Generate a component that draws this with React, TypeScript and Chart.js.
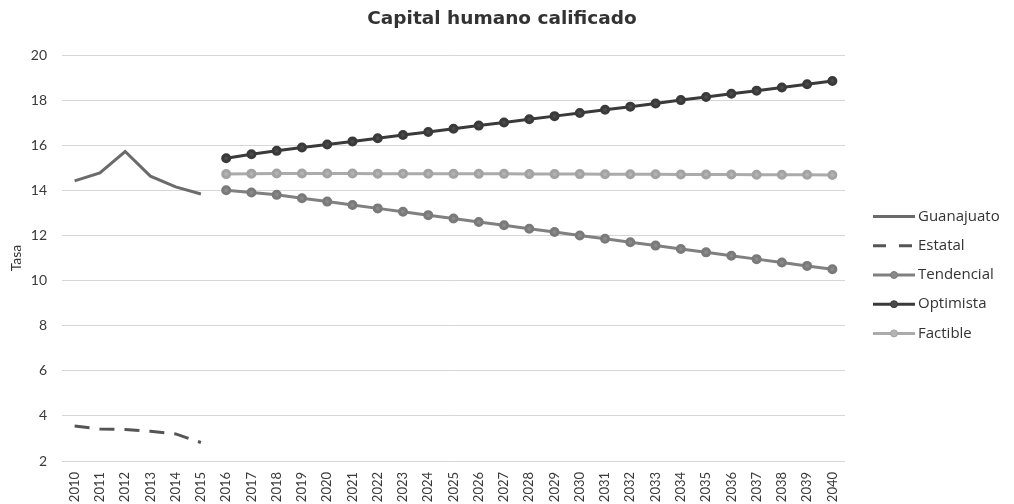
import React, { useEffect, useRef } from "react";
import { Chart, registerables } from "chart.js";

Chart.register(...registerables);

const years = [
  "2010","2011","2012","2013","2014","2015","2016","2017","2018","2019","2020",
  "2021","2022","2023","2024","2025","2026","2027","2028","2029","2030",
  "2031","2032","2033","2034","2035","2036","2037","2038","2039","2040",
];

const guanajuato = [14.42, 14.77, 15.72, 14.63, 14.15, 13.84];
const estatal = [3.55, 3.42, 3.4, 3.32, 3.2, 2.82];
const tendencial = [
  14.0, 13.9, 13.8, 13.65, 13.5, 13.35, 13.2, 13.05, 12.9, 12.75, 12.6, 12.45,
  12.3, 12.15, 12.0, 11.85, 11.7, 11.55, 11.4, 11.25, 11.1, 10.95, 10.8, 10.65, 10.5,
];
const optimista = [
  15.42, 15.6, 15.75, 15.9, 16.03, 16.17, 16.31, 16.45, 16.59, 16.73, 16.87, 17.01,
  17.15, 17.29, 17.43, 17.57, 17.71, 17.85, 18.0, 18.14, 18.28, 18.42, 18.56, 18.7, 18.85,
];
const factible = [
  14.72, 14.74, 14.75, 14.75, 14.75, 14.75, 14.74, 14.74, 14.74, 14.73, 14.73, 14.73,
  14.72, 14.72, 14.72, 14.71, 14.71, 14.71, 14.7, 14.7, 14.7, 14.69, 14.69, 14.69, 14.68,
];

const TITLE = "Capital humano calificado";

const pad = (arr: number[], before: number) => {
  const out: (number | null)[] = [];
  for (let i = 0; i < years.length; i++) {
    const j = i - before;
    out.push(j >= 0 && j < arr.length ? arr[j] : null);
  }
  return out;
};

const FONT = "Lato, 'Open Sans', sans-serif";
const LEGEND_FONT = "'Open Sans', Lato, sans-serif";

const decorPlugin = {
  id: "decor",
  afterDraw(chart: any) {
    const { ctx, chartArea } = chart;
    // title, centred on the whole canvas
    ctx.save();
    ctx.fillStyle = "#333333";
    ctx.font = `bold 18.5px 'DejaVu Sans', sans-serif`;
    ctx.textAlign = "center";
    ctx.textBaseline = "middle";
    ctx.fillText(TITLE, chart.width / 2 - 5, 11);
    ctx.restore();

    // legend
    const x0 = chartArea.right + 28;
    const cy = (chartArea.top + chartArea.bottom) / 2 + 17;
    chart.data.datasets.forEach((ds: any, i: number) => {
      const y = cy + (i - 2) * 29.2;
      ctx.save();
      ctx.strokeStyle = ds.borderColor;
      ctx.lineWidth = 3;
      ctx.setLineDash(ds.legendDash || []);
      ctx.beginPath();
      ctx.moveTo(x0, y);
      ctx.lineTo(x0 + 42, y);
      ctx.stroke();
      ctx.setLineDash([]);
      if (ds.pointRadius > 0) {
        ctx.fillStyle = ds.backgroundColor;
        ctx.strokeStyle = ds.pointBorderColor;
        ctx.lineWidth = 1;
        ctx.beginPath();
        ctx.arc(x0 + 21, y, ds.pointRadius, 0, Math.PI * 2);
        ctx.fill();
        ctx.stroke();
      }
      ctx.fillStyle = "#333";
      ctx.font = `15px ${LEGEND_FONT}`;
      ctx.textBaseline = "middle";
      ctx.textAlign = "left";
      ctx.fillText(ds.label, x0 + 45, y);
      ctx.restore();
    });
  },
};

export default function App() {
  const ref = useRef<HTMLCanvasElement | null>(null);
  useEffect(() => {
    if (!ref.current) return;
    const chart = new Chart(ref.current, {
      type: "line",
      data: {
        labels: years,
        datasets: [
          {
            label: "Guanajuato",
            data: pad(guanajuato, 0),
            borderColor: "#6b6b6b",
            backgroundColor: "#6b6b6b",
            borderWidth: 3,
            pointRadius: 0,
          },
          {
            label: "Estatal",
            data: pad(estatal, 0),
            borderColor: "#555555",
            backgroundColor: "#555555",
            borderWidth: 3,
            borderDash: [15, 10],
            legendDash: [13, 13],
            pointRadius: 0,
          },
          {
            label: "Tendencial",
            data: pad(tendencial, 6),
            borderColor: "#808080",
            backgroundColor: "#8a8a8a",
            borderWidth: 3,
            pointRadius: 3.5,
            pointBorderColor: "#7a7a7a",
          },
          {
            label: "Optimista",
            data: pad(optimista, 6),
            borderColor: "#3a3a3a",
            backgroundColor: "#4a4a4a",
            borderWidth: 3,
            pointRadius: 3.5,
            pointBorderColor: "#3a3a3a",
          },
          {
            label: "Factible",
            data: pad(factible, 6),
            borderColor: "#ababab",
            backgroundColor: "#b3b3b3",
            borderWidth: 3,
            pointRadius: 3.5,
            pointBorderColor: "#a3a3a3",
          },
        ] as any,
      },
      options: {
        animation: false,
        responsive: false,
        maintainAspectRatio: false,
        layout: { padding: { left: 0, right: 161, top: 47, bottom: 0 } },
        plugins: {
          title: { display: false },
          legend: { display: false },
          tooltip: { enabled: false },
        },
        scales: {
          x: {
            offset: true,
            grid: { display: false },
            border: { display: false },
            ticks: {
              maxRotation: 90,
              minRotation: 90,
              autoSkip: false,
              color: "#3a3a3a",
              font: { family: FONT, size: 13 },
              padding: 3,
            },
            afterFit: (s: any) => {
              s.height = 43;
            },
          },
          y: {
            min: 2,
            max: 20,
            ticks: {
              stepSize: 2,
              color: "#3a3a3a",
              font: { family: FONT, size: 14 },
              padding: 15,
            },
            grid: { color: "#d6d6d6", drawTicks: false },
            border: { display: false },
            title: {
              display: true,
              text: "Tasa",
              color: "#333",
              font: { family: FONT, size: 14 },
              padding: { top: 0, bottom: 0 },
            },
            afterFit: (s: any) => {
              s.width = 54;
            },
          },
        },
      },
      plugins: [decorPlugin],
    });
    return () => chart.destroy();
  }, []);
  return (
    <div style={{ width: 998, height: 496 }}>
      <canvas ref={ref} width={998} height={496} />
    </div>
  );
}
